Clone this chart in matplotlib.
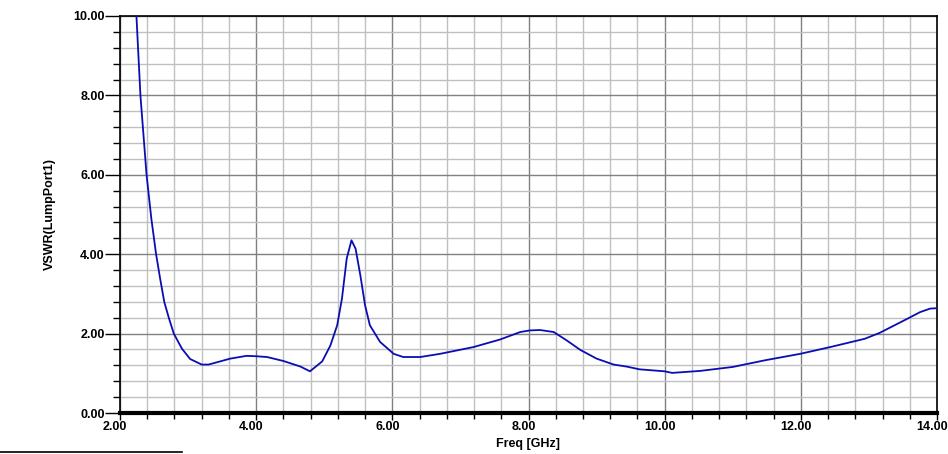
import matplotlib
matplotlib.use("Agg")
import matplotlib.pyplot as plt
import matplotlib.transforms as mtransforms
from matplotlib.ticker import MultipleLocator, FormatStrFormatter
from matplotlib.lines import Line2D

freq = [2.24, 2.30, 2.39, 2.46, 2.53, 2.59, 2.65, 2.72, 2.79, 2.91, 3.03, 3.20, 3.30,
        3.45, 3.62, 3.86, 4.00, 4.16, 4.40, 4.65, 4.79, 4.97, 5.09, 5.19, 5.26, 5.33,
        5.40, 5.46, 5.53, 5.60, 5.67, 5.82, 6.02, 6.16, 6.41, 6.70, 7.19, 7.58, 7.88,
        8.02, 8.17, 8.37, 8.56, 8.76, 9.00, 9.25, 9.44, 9.63, 10.00, 10.11, 10.52,
        11.00, 11.48, 11.99, 12.43, 12.94, 13.16, 13.56, 13.75, 13.90, 14.00]
vswr = [10.05, 8.00, 6.00, 4.90, 4.00, 3.38, 2.80, 2.38, 2.00, 1.62, 1.36, 1.22, 1.22,
        1.29, 1.37, 1.44, 1.43, 1.41, 1.31, 1.17, 1.05, 1.30, 1.70, 2.21, 2.88, 3.89,
        4.35, 4.14, 3.47, 2.71, 2.21, 1.79, 1.49, 1.41, 1.41, 1.49, 1.66, 1.85, 2.04,
        2.08, 2.09, 2.04, 1.83, 1.59, 1.37, 1.22, 1.17, 1.10, 1.05, 1.01, 1.06,
        1.16, 1.33, 1.49, 1.66, 1.87, 2.02, 2.37, 2.54, 2.63, 2.64]

x_label = "Freq [GHz]"
y_label = "VSWR(LumpPort1)"

plt.rcParams['font.family'] = ['Liberation Sans', 'DejaVu Sans']

fig = plt.figure(figsize=(9.48, 4.54), dpi=100)
ax = fig.add_axes([120/948, 1-413/454, (937-120)/948, (413-16)/454])

ax.set_xlim(2, 14)
ax.set_ylim(0, 10)
ax.xaxis.set_major_locator(MultipleLocator(2))
ax.xaxis.set_minor_locator(MultipleLocator(0.4))
ax.yaxis.set_major_locator(MultipleLocator(2))
ax.yaxis.set_minor_locator(MultipleLocator(0.4))
ax.xaxis.set_major_formatter(FormatStrFormatter('%.2f'))
ax.yaxis.set_major_formatter(FormatStrFormatter('%.2f'))

ax.grid(which='minor', color='#c0c0c0', lw=1.0)
ax.grid(which='major', color='#808080', lw=1.0)
ax.set_axisbelow(True)

ax.plot(freq, vswr, color='#0c0cb4', lw=1.3, clip_on=True, zorder=3)

for s in ['left', 'top', 'right']:
    ax.spines[s].set_color('black')
    ax.spines[s].set_linewidth(1.2)
ax.spines['bottom'].set_color('black')
ax.spines['bottom'].set_linewidth(3)

ax.tick_params(axis='y', which='major', length=11, width=1, pad=0, labelsize=9)
ax.tick_params(axis='y', which='minor', length=5, width=1)
ax.tick_params(axis='x', which='major', length=5, width=1, pad=1, labelsize=9)
ax.tick_params(axis='x', which='minor', length=4, width=1)
shift = mtransforms.ScaledTranslation(-5/100, 0, fig.dpi_scale_trans)
for lbl in ax.get_xticklabels():
    lbl.set_fontweight('bold')
    lbl.set_transform(lbl.get_transform() + shift)
for lbl in ax.get_yticklabels():
    lbl.set_fontweight('bold')

ax.set_xlabel(x_label, fontsize=9, fontweight='bold', labelpad=3)
ax.set_ylabel(y_label, fontsize=9, fontweight='bold', labelpad=12.5)

fig.add_artist(Line2D([0, 182/948], [1-452/454, 1-452/454], color='black', lw=1.2))

fig.savefig('out.png', dpi=100)
